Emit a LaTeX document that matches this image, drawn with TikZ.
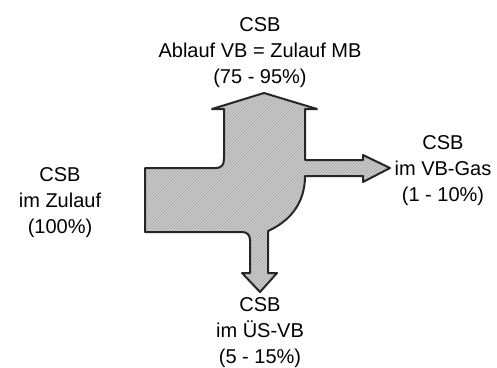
\documentclass[tikz,border=0pt]{standalone}
\usepackage{fontspec}
\setmainfont{Liberation Sans}
\usetikzlibrary{patterns}
\newcommand\flowshape{(145,168) -- (215,168) .. controls (222,168) and (224,165) .. (224,158)
 -- (224,109) -- (212,109) -- (264,93) -- (317,109) -- (305,109)
 -- (305,160) -- (363,160) -- (363,155) -- (390,168) -- (363,182) -- (363,176) -- (305,176)
 .. controls (305,205) and (288,222) .. (268,231)
 -- (268,273) -- (277,273) -- (260,292) -- (242,273) -- (250,273)
 -- (250,240) .. controls (250,235) and (247,232) .. (242,232) -- (145,232) -- cycle}
\tikzset{lbl/.style={align=center, inner sep=0pt, font=\fontsize{20}{26}\selectfont, text=black}}
\begin{document}
\begin{tikzpicture}[x=1pt,y=-1pt]
\useasboundingbox (0,0) rectangle (497,367);
\fill[gray!40] \flowshape;
\fill[pattern=north east lines, pattern color=gray!70] \flowshape;
\draw[line width=2pt, line join=round, black!85] \flowshape;
\node[lbl] (top) at (260,53) {CSB\\Ablauf VB = Zulauf MB\\(75 - 95\%)};
\node[lbl] (left) at (60,203) {CSB\\im Zulauf\\(100\%)};
\node[lbl] (right) at (443,171) {CSB\\im VB-Gas\\(1 - 10\%)};
\node[lbl] (bottom) at (260,333) {CSB\\im ÜS-VB\\(5 - 15\%)};
\end{tikzpicture}
\end{document}
